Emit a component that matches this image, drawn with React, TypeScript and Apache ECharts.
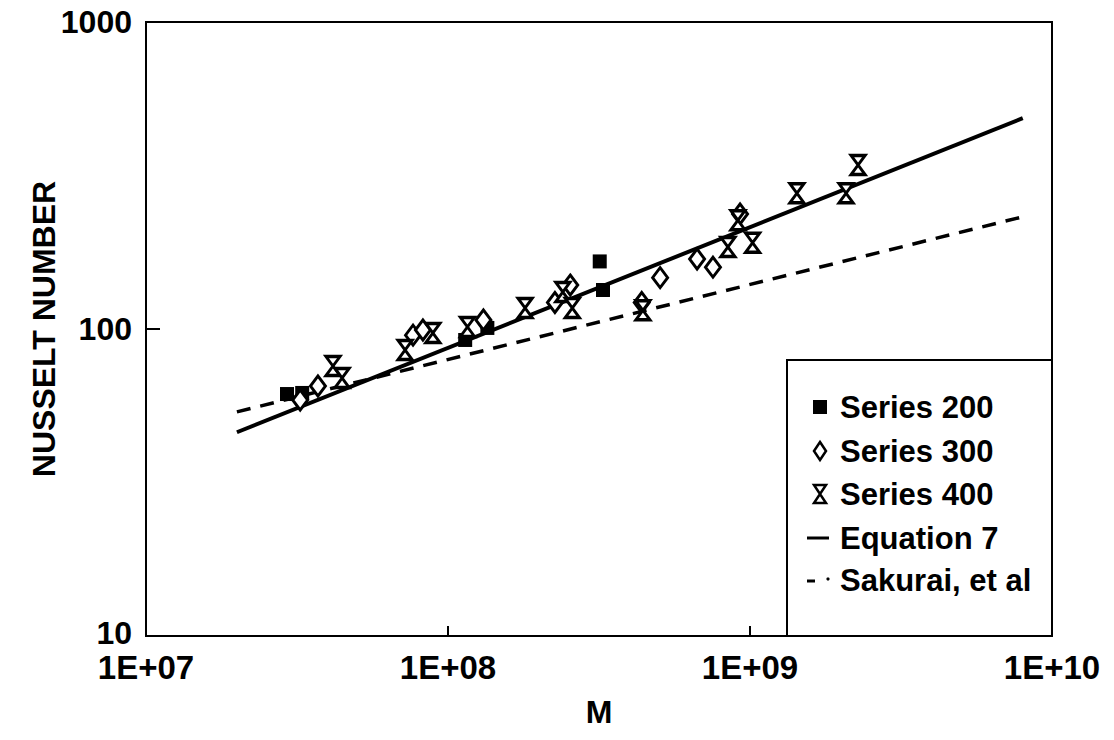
import React, { useEffect, useRef } from "react";
import * as echarts from "echarts";

// ---- data ----
const series200: [number, number][] = [
  [2.93e7, 61.4], [3.29e7, 61.9], [1.14e8, 92.1], [1.35e8, 100.8], [3.18e8, 166], [3.26e8, 134],
];
const series300: [number, number][] = [
  [3.24e7, 58.7], [3.71e7, 65.2], [7.66e7, 95.5], [8.26e7, 99.3], [1.31e8, 107], [2.26e8, 122],
  [2.54e8, 139], [4.38e8, 122], [5.04e8, 147], [6.68e8, 169], [7.54e8, 159], [9.27e8, 237],
];
const series400: [number, number][] = [
  [4.16e7, 75.7], [4.46e7, 69.2], [7.21e7, 85.4], [8.91e7, 97.1], [1.16e8, 101.6], [1.8e8, 117],
  [2.4e8, 132], [2.58e8, 117], [4.42e8, 115], [8.45e8, 185], [9.12e8, 226], [1.02e9, 191],
  [1.43e9, 277], [2.08e9, 277], [2.28e9, 342],
];
const equation7: [number, number][] = [[2e7, 46.1], [8e9, 486]];
const sakurai: [number, number][] = [[2e7, 53.7], [8e9, 232]];

const xTickValues = [1e7, 1e8, 1e9, 1e10];
const xTickLabels = ["1E+07", "1E+08", "1E+09", "1E+10"];
const yTickValues = [10, 100, 1000];
const yTickLabels = ["10", "100", "1000"];

const legendNames = ["Series 200", "Series 300", "Series 400", "Equation 7", "Sakurai, et al"];

const FONT = "'Liberation Sans', Arial, Helvetica, sans-serif";
const HOURGLASS = "path://M0,0L12,0L0,18L12,18Z";

function labelIndex(v: number, vals: number[]) {
  let best = 0;
  let bd = Infinity;
  vals.forEach((t, i) => {
    const d = Math.abs(Math.log10(v) - Math.log10(t));
    if (d < bd) { bd = d; best = i; }
  });
  return bd < 0.01 ? best : -1;
}

export default function App() {
  const ref = useRef<HTMLDivElement>(null);
  useEffect(() => {
    if (!ref.current) return;
    const chart = echarts.init(ref.current, undefined, { renderer: "svg" });
    const gx = 146, gy = 22, gw = 906, gh = 614;
    const lx = 820, tx = 840;
    const rows = [407, 451, 494, 538, 580];
    const textStyle = (t: string, y: number) => ({
      type: "text",
      x: tx,
      y,
      style: { text: t, fill: "#000", font: `bold 31px ${FONT}`, verticalAlign: "middle", align: "left" },
    });
    const yFont = { fontFamily: FONT, fontSize: 32, fontWeight: "bold", color: "#000" };
    chart.setOption({
      animation: false,
      backgroundColor: "#fff",
      grid: {
        left: gx, top: gy, width: gw, height: gh,
        show: true, borderColor: "#000", borderWidth: 2, backgroundColor: "transparent",
      },
      xAxis: {
        type: "log", logBase: 10, min: 1e7, max: 1e10,
        name: "M", nameLocation: "middle", nameGap: 60,
        nameTextStyle: { fontFamily: FONT, fontSize: 32, fontWeight: "bold", color: "#000" },
        axisLine: { show: true, lineStyle: { color: "#000", width: 2 } },
        axisTick: { show: true, inside: true, length: 10, lineStyle: { color: "#000", width: 2 } },
        splitLine: { show: false },
        minorTick: { show: false },
        axisLabel: {
          margin: 16, fontFamily: FONT, fontSize: 33, fontWeight: "bold", color: "#000", lineHeight: 30,
          formatter: (v: number) => {
            const i = labelIndex(v, xTickValues);
            return i < 0 ? "" : xTickLabels[i];
          },
        },
      },
      yAxis: {
        type: "log", logBase: 10, min: 10, max: 1000,
        name: "NUSSELT NUMBER", nameLocation: "middle", nameGap: 86, nameRotate: 90,
        nameMoveOverlap: false,
        nameTextStyle: { fontFamily: FONT, fontSize: 32, fontWeight: "bold", color: "#000" },
        axisLine: { show: true, lineStyle: { color: "#000", width: 2 } },
        axisTick: { show: true, inside: true, length: 14, lineStyle: { color: "#000", width: 2 } },
        splitLine: { show: false },
        axisLabel: {
          margin: 14, ...yFont, lineHeight: 24,
          formatter: (v: number) => {
            const i = labelIndex(v, yTickValues);
            if (i < 0) return "";
            return i === 0 ? `{low|${yTickLabels[i]}}` : yTickLabels[i];
          },
          rich: { low: { ...yFont, lineHeight: 24, padding: [0, 0, 6, 0] } },
        },
      },
      series: [
        {
          name: legendNames[3], type: "line", data: equation7, symbol: "none",
          lineStyle: { color: "#000", width: 4 }, z: 2,
        },
        {
          name: legendNames[4], type: "line", data: sakurai, symbol: "none",
          lineStyle: { color: "#000", width: 3.5, type: [14, 10] }, z: 2,
        },
        {
          name: legendNames[0], type: "scatter", data: series200, symbol: "rect", symbolSize: [14, 14],
          itemStyle: { color: "#000", opacity: 1 }, z: 3,
        },
        {
          name: legendNames[1], type: "scatter", data: series300, symbol: "diamond", symbolSize: [15, 20],
          itemStyle: { color: "#fff", borderColor: "#000", borderWidth: 3, opacity: 1 }, z: 4,
        },
        {
          name: legendNames[2], type: "scatter", data: series400, symbol: HOURGLASS, symbolSize: [14, 19],
          itemStyle: { color: "#fff", borderColor: "#000", borderWidth: 3, opacity: 1 }, z: 5,
        },
      ],
      graphic: [
        {
          type: "rect", shape: { x: 787, y: 360, width: 1052 - 787, height: 636 - 360 },
          style: { fill: "#fff", stroke: "#000", lineWidth: 2 }, z: 10,
        },
        { type: "rect", shape: { x: lx - 7, y: rows[0] - 7, width: 14, height: 14 }, style: { fill: "#000" }, z: 11 },
        {
          type: "polygon",
          shape: { points: [[lx, rows[1] - 9], [lx + 6, rows[1]], [lx, rows[1] + 9], [lx - 6, rows[1]]] },
          style: { fill: "#fff", stroke: "#000", lineWidth: 2.5 }, z: 11,
        },
        {
          type: "polygon",
          shape: { points: [[lx - 6, rows[2] - 9], [lx + 6, rows[2] - 9], [lx - 6, rows[2] + 9], [lx + 6, rows[2] + 9]] },
          style: { fill: "#fff", stroke: "#000", lineWidth: 2.5 }, z: 11,
        },
        { type: "line", shape: { x1: 807, y1: rows[3], x2: 829, y2: rows[3] }, style: { stroke: "#000", lineWidth: 3 }, z: 11 },
        { type: "line", shape: { x1: 807, y1: rows[4] + 1, x2: 815, y2: rows[4] + 1 }, style: { stroke: "#000", lineWidth: 3 }, z: 11 },
        { type: "circle", shape: { cx: 828, cy: rows[4] - 1, r: 1.6 }, style: { fill: "#000" }, z: 11 },
        ...legendNames.map((n, i) => ({ ...textStyle(n, rows[i]), z: 11 })),
      ],
    });
    return () => chart.dispose();
  }, []);
  return (
    <div
      ref={ref}
      style={{ position: "fixed", left: 0, top: 0, width: 1114, height: 740, background: "#fff" }}
    />
  );
}
